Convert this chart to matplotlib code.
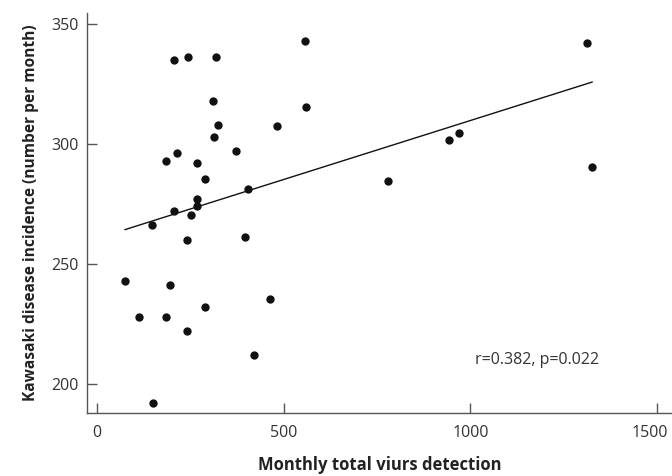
import numpy as np
import matplotlib
matplotlib.use("Agg")
import matplotlib.pyplot as plt
from matplotlib.transforms import ScaledTranslation

# Data (monthly total virus detection, Kawasaki disease incidence)
virus = [207, 244, 318, 557, 310, 560, 323, 481, 314, 213, 185, 372, 268, 290,
         403, 269, 267, 205, 252, 148, 240, 395, 75, 196, 462, 290, 113, 184,
         241, 421, 151, 1311, 970, 943, 778, 1326]
kawasaki = [335, 336, 336, 343, 318, 315.5, 308, 307.5, 303, 296, 293, 297, 292, 285.5,
            281, 277, 274, 272, 270.5, 266, 260, 261, 243, 241, 235.5, 232, 228, 228,
            222, 212, 192, 342, 304.5, 301.5, 284.5, 290.5]
xticks = [0, 500, 1000, 1500]
yticks = [200, 250, 300, 350]
annot = "r=0.382, p=0.022"

plt.rcParams['font.family'] = ['Open Sans', 'DejaVu Sans']

fig = plt.figure(figsize=(6.72, 4.76), dpi=100)
ax = fig.add_axes([0.130, 0.133, 0.870, 0.840])

x = np.array(virus, dtype=float)
y = np.array(kawasaki, dtype=float)
ax.scatter(x, y, s=36, color='#111111', zorder=3, linewidths=0)

slope, intercept = np.polyfit(x, y, 1)
xl = np.array([x.min(), x.max()])
ax.plot(xl, intercept + slope * xl, color='#111111', lw=1.0)

ax.set_xlim(-26, 1540)
ax.set_ylim(188, 354.6)
ax.set_xticks(xticks)
ax.set_yticks(yticks)
ax.tick_params(direction='in', length=7, width=1, color='#555555',
               labelsize=11.5, labelcolor='#333333')
ax.tick_params(axis='x', pad=9)
ax.tick_params(axis='y', pad=6)
for s in ['top', 'right']:
    ax.spines[s].set_visible(False)
for s in ['left', 'bottom']:
    ax.spines[s].set_color('#555555')
    ax.spines[s].set_linewidth(1)

last = ax.xaxis.get_major_ticks()[-1]
last.label1.set_transform(last.label1.get_transform() +
                          ScaledTranslation(-5 / 72, 0, fig.dpi_scale_trans))

ax.set_xlabel("Monthly total viurs detection", fontsize=12, fontweight='bold',
              color='#222222', labelpad=11)
ax.set_ylabel("Kawasaki disease incidence (number per month)", fontsize=11.2,
              fontweight='bold', color='#222222', labelpad=9)
ax.text(1012, 210, annot, fontsize=11.5, color='#333333', va='center', ha='left')

fig.savefig("out.png", dpi=100)
